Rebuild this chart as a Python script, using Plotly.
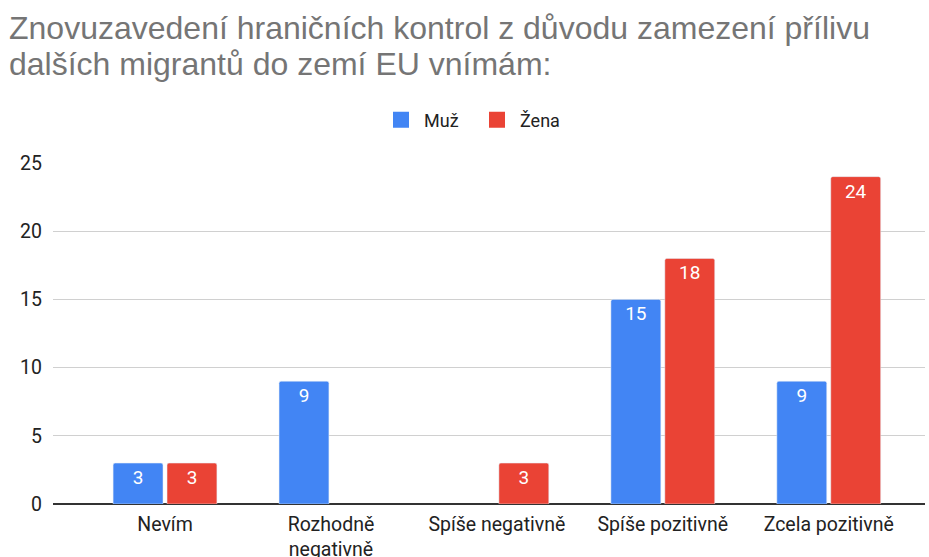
import plotly.graph_objects as go

categories = ["Nevím", "Rozhodně<br>negativně", "Spíše negativně", "Spíše pozitivně", "Zcela pozitivně"]
series_names = ["Muž", "Žena"]
muz = [3, 9, None, 15, 9]
zena = [3, None, 3, 18, 24]
y_ticks = [0, 5, 10, 15, 20, 25]
title_lines = ["Znovuzavedení hraničních kontrol z důvodu zamezení přílivu",
               "dalších migrantů do zemí EU vnímám:"]
colors = ["#4285F4", "#EA4335"]

FONT = "Roboto, Arial, sans-serif"

fig = go.Figure()
for name, vals, col in zip(series_names, [muz, zena], colors):
    fig.add_trace(go.Bar(
        name=name, x=categories, y=vals, marker=dict(color=col, cornerradius=2),
        text=[str(v) if v else "" for v in vals], textposition="inside", insidetextanchor="end",
        textfont=dict(color="white", size=19, family=FONT), textangle=0,
        showlegend=False, legendgroup=name,
    ))
# legend entries with larger square swatches
for name, col in zip(series_names, colors):
    fig.add_trace(go.Scatter(
        name=name, x=[None], y=[None], mode="markers",
        marker=dict(symbol="square", size=19, color=col), legendgroup=name, showlegend=True,
    ))

# paper coords: y=0 at px 504, y=1 at px 163; x=0 at px 53, x=1 at px 925
def py(px):
    return (504 - px) / 341

def pxx(px):
    return (px - 53) / 872

for i, line in enumerate(title_lines):
    fig.add_annotation(
        text=line, xref="paper", yref="paper", x=pxx(7), y=py(48 + 36 * i),
        xanchor="left", yanchor="bottom", showarrow=False,
        font=dict(family="Liberation Sans, Arial, sans-serif", size=32, color="#757575"),
    )

fig.update_layout(
    width=929, height=557,
    margin=dict(l=53, r=4, t=163, b=53, autoexpand=False),
    paper_bgcolor="white", plot_bgcolor="white",
    font=dict(family=FONT, color="#222222", size=19),
    barmode="group", bargap=0.35, bargroupgap=0.075,
    legend=dict(
        orientation="h", x=pxx(474), xanchor="center", y=py(120), yanchor="middle",
        font=dict(size=18, color="#222222", family=FONT), itemwidth=36,
        entrywidth=45, entrywidthmode="pixels",
    ),
    uniformtext=dict(minsize=10, mode="show"),
    showlegend=True,
)
fig.update_xaxes(
    range=[-0.675, 4.58], showgrid=False, ticks="", tickfont=dict(size=19.5, color="#222222"),
    showline=False, automargin=False, ticklabelstandoff=6,
)
fig.update_yaxes(
    range=[0, 25], tickvals=y_ticks, showgrid=True, gridcolor="#d0d0d0", gridwidth=1,
    zeroline=True, zerolinecolor="#333333", zerolinewidth=1.5, automargin=False,
    tickfont=dict(size=19.5, color="#222222"), ticks="", ticklabelstandoff=10,
)

fig.write_html("out.html", post_script="document.body.style.margin='0';",
               config={"displayModeBar": False})
